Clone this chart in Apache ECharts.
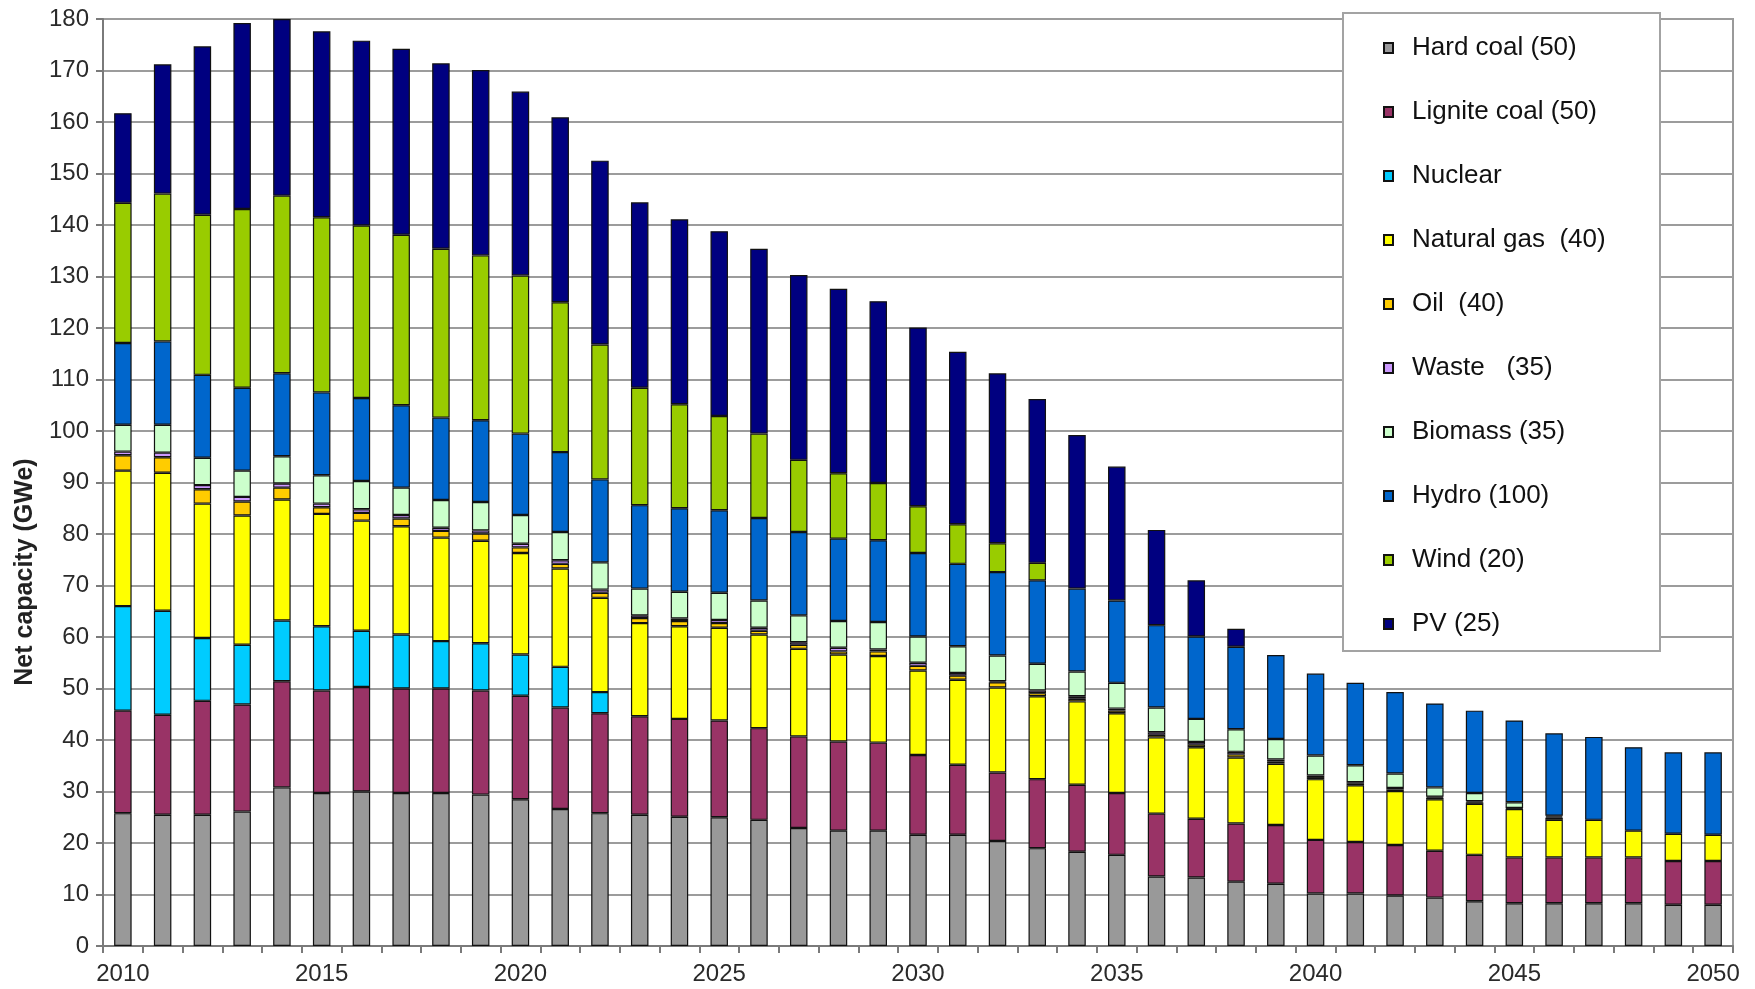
<!DOCTYPE html>
<html>
<head>
<meta charset="utf-8">
<title>Net capacity by source</title>
<script src="https://cdn.jsdelivr.net/npm/echarts@6/dist/echarts.min.js"></script>
<style>
  html, body { margin: 0; padding: 0; background: #ffffff; }
  #chart { width: 1755px; height: 989px; }
</style>
</head>
<body>
<div id="chart"></div>
<script>
// Years on the category axis
const years = [];
for (let y = 2010; y <= 2050; y++) years.push(String(y));

// Net capacity per source, GWe (2010 ... 2050)
const hardCoal = [25.8, 25.5, 25.5, 26.1, 30.8, 29.7, 30.0, 29.7, 29.7, 29.4, 28.5, 26.6, 25.8, 25.5, 25.1, 25.0, 24.5, 22.9, 22.4, 22.4, 21.6, 21.6, 20.4, 19.0, 18.3, 17.7, 13.5, 13.3, 12.5, 12.1, 10.2, 10.2, 9.8, 9.4, 8.7, 8.3, 8.3, 8.3, 8.3, 8.0, 8.0];
const lignite = [19.9, 19.4, 22.1, 20.8, 20.6, 19.9, 20.3, 20.3, 20.3, 20.2, 20.1, 19.7, 19.4, 19.1, 19.0, 18.8, 17.8, 17.8, 17.3, 17.1, 15.5, 13.6, 13.3, 13.4, 13.0, 12.0, 12.2, 11.4, 11.3, 11.4, 10.4, 10.0, 9.8, 9.1, 9.0, 8.9, 8.9, 8.9, 8.9, 8.5, 8.5];
const nuclear = [20.3, 20.2, 12.2, 11.6, 11.8, 12.5, 10.9, 10.5, 9.2, 9.2, 8.0, 7.9, 4.1, 0, 0, 0, 0, 0, 0, 0, 0, 0, 0, 0, 0, 0, 0, 0, 0, 0, 0, 0, 0, 0, 0, 0, 0, 0, 0, 0, 0];
const naturalGas = [26.3, 26.8, 26.1, 25.1, 23.5, 21.8, 21.4, 21.0, 20.1, 19.9, 19.7, 19.1, 18.3, 18.1, 18.0, 18.0, 18.2, 17.0, 16.9, 16.8, 16.4, 16.5, 16.5, 16.1, 16.2, 15.5, 14.8, 13.9, 12.8, 11.9, 11.8, 11.0, 10.5, 10.0, 9.9, 9.4, 7.3, 7.3, 5.2, 5.3, 5.1];
const oil = [3.0, 3.0, 2.8, 2.7, 2.3, 1.3, 1.5, 1.5, 1.3, 1.4, 1.1, 0.9, 1.0, 1.0, 1.0, 0.9, 0.7, 0.8, 0.6, 0.9, 0.9, 0.8, 1.0, 0.6, 0.5, 0.5, 0.5, 0.5, 0.6, 0.4, 0.4, 0.3, 0.3, 0.3, 0.3, 0.1, 0.4, 0, 0, 0, 0];
const waste = [0.7, 0.9, 0.8, 0.9, 0.8, 0.7, 0.7, 0.7, 0.6, 0.6, 0.7, 0.7, 0.6, 0.5, 0.5, 0.6, 0.6, 0.5, 0.7, 0.4, 0.6, 0.5, 0.2, 0.5, 0.5, 0.4, 0.5, 0.5, 0.5, 0.4, 0.3, 0.3, 0.3, 0.2, 0.2, 0.1, 0.2, 0, 0, 0, 0];
const biomass = [5.2, 5.4, 5.3, 5.1, 5.3, 5.5, 5.5, 5.3, 5.4, 5.5, 5.6, 5.5, 5.3, 5.2, 5.2, 5.3, 5.3, 5.2, 5.2, 5.3, 5.1, 5.2, 5.0, 5.2, 4.8, 5.0, 4.8, 4.5, 4.4, 4.0, 3.9, 3.3, 2.8, 1.8, 1.6, 1.1, 0.2, 0, 0, 0, 0];
const hydro = [15.9, 16.2, 16.1, 16.1, 16.1, 16.1, 16.1, 16.0, 16.0, 15.9, 15.8, 15.5, 16.1, 16.2, 16.2, 16.0, 16.0, 16.2, 16.0, 15.9, 16.2, 16.0, 16.2, 16.2, 16.1, 16.0, 16.0, 16.0, 16.0, 16.3, 15.9, 16.0, 15.8, 16.3, 16.0, 15.9, 16.0, 16.1, 16.2, 15.8, 16.0];
const wind = [27.2, 28.7, 31.1, 34.7, 34.5, 34.0, 33.5, 33.1, 32.8, 32.0, 30.7, 29.1, 26.2, 22.8, 20.2, 18.3, 16.4, 14.0, 12.7, 11.1, 9.1, 7.7, 5.6, 3.4, 0, 0, 0, 0, 0, 0, 0, 0, 0, 0, 0, 0, 0, 0, 0, 0, 0];
const pv = [17.4, 25.1, 32.7, 36.1, 34.3, 36.1, 35.9, 36.1, 36.0, 36.0, 35.7, 35.9, 35.7, 36.0, 35.9, 35.9, 35.9, 35.9, 35.8, 35.3, 34.7, 33.5, 33.0, 31.8, 29.8, 26.0, 18.5, 10.9, 3.5, 0, 0, 0, 0, 0, 0, 0, 0, 0, 0, 0, 0];

// Series names (lifetime in years in brackets) and fill colours
const seriesNames = ['Hard coal (50)', 'Lignite coal (50)', 'Nuclear', 'Natural gas  (40)', 'Oil  (40)', 'Waste   (35)', 'Biomass (35)', 'Hydro (100)', 'Wind (20)', 'PV (25)'];
const seriesValues = [hardCoal, lignite, nuclear, naturalGas, oil, waste, biomass, hydro, wind, pv];
const seriesColors = ['#999999', '#993366', '#00ccff', '#ffff00', '#ffcc00', '#cc99ff', '#ccffcc', '#0066cc', '#99cc00', '#000080'];
const yAxisTitle = 'Net capacity (GWe)';

const FONT = "'Liberation Sans', Arial, sans-serif";

const chart = echarts.init(document.getElementById('chart'), null, { renderer: 'canvas' });

const series = seriesNames.map((name, i) => ({
  name: name,
  type: 'bar',
  stack: 'capacity',
  barWidth: '44%',
  // an empty segment is left out instead of drawn as a flat outlined bar
  data: seriesValues[i].map(v => (v === 0 ? '-' : v)),
  itemStyle: { color: seriesColors[i], borderColor: '#111111', borderWidth: 1.2 },
  emphasis: { disabled: true }
}));

chart.setOption({
  animation: false,
  backgroundColor: '#ffffff',
  textStyle: { fontFamily: FONT },
  grid: {
    left: 103, right: 22, top: 19, bottom: 43,
    show: true, borderColor: '#9a9a9a', borderWidth: 2, backgroundColor: 'transparent'
  },
  graphic: [
    {
      // legend frame
      type: 'rect',
      z: 50,
      shape: { x: 1343, y: 13, width: 317, height: 638 },
      style: { fill: '#ffffff', stroke: '#a3a3a3', lineWidth: 2 }
    },
    {
      // vertical axis title, sitting a little below the plot's middle
      type: 'text',
      z: 50,
      x: 25,
      y: 572,
      rotation: Math.PI / 2,
      style: {
        text: yAxisTitle,
        fontFamily: FONT,
        fontSize: 25,
        fontWeight: 'bold',
        fill: '#222222',
        align: 'center',
        verticalAlign: 'middle'
      }
    }
  ],
  legend: {
    z: 60,
    orient: 'vertical',
    left: 1383,
    top: 35,
    padding: 0,
    itemGap: 38,
    itemWidth: 9,
    itemHeight: 10,
    icon: 'rect',
    selectedMode: false,
    textStyle: { fontFamily: FONT, fontSize: 26, color: '#111111', padding: [0, 0, 0, 14] },
    data: seriesNames
  },
  xAxis: {
    type: 'category',
    data: years,
    boundaryGap: true,
    axisLine: { lineStyle: { color: '#7a7a7a', width: 2 } },
    axisTick: { show: true, interval: 0, length: 7, lineStyle: { color: '#7a7a7a', width: 2 } },
    axisLabel: { interval: 4, margin: 16, fontSize: 24, color: '#2a2a2a', fontFamily: FONT },
    splitLine: { show: false }
  },
  yAxis: {
    type: 'value',
    min: 0,
    max: 180,
    interval: 10,
    axisLine: { show: true, lineStyle: { color: '#7a7a7a', width: 2 } },
    axisTick: { show: true, length: 7, lineStyle: { color: '#7a7a7a', width: 2 } },
    axisLabel: { margin: 14, fontSize: 24, color: '#2a2a2a', fontFamily: FONT },
    splitLine: { show: true, lineStyle: { color: '#9c9c9c', width: 2 } }
  },
  series: series
});
</script>
</body>
</html>
